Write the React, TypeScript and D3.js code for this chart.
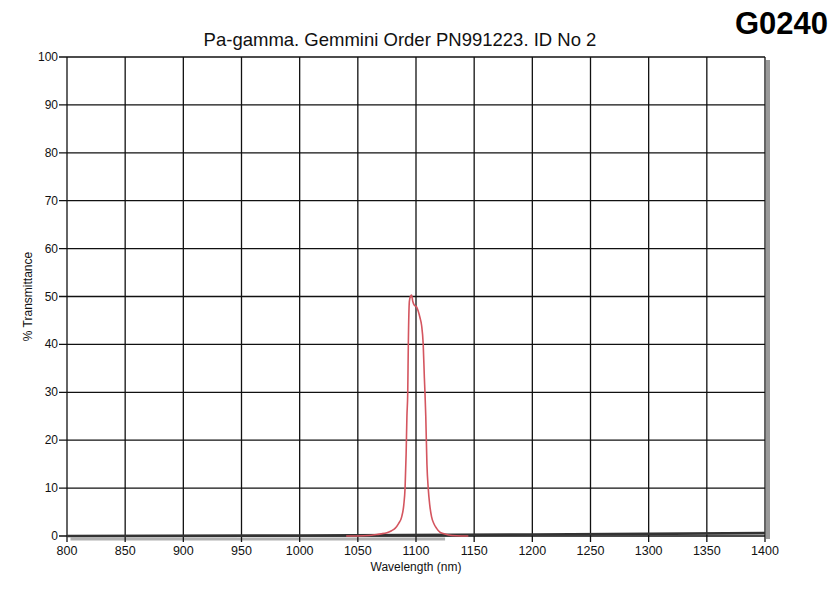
import React from "react";
import * as d3 from "d3";

const wavelengths = [1040, 1055, 1062, 1066, 1070, 1075, 1079, 1082, 1085, 1087.7, 1089.5, 1090.6, 1091.5, 1092.2, 1092.9, 1093.4, 1094.3, 1095.2, 1096.2, 1097.2, 1098.5, 1100.5, 1101.8, 1103.5, 1104.8, 1106.2, 1107.2, 1107.7, 1108.4, 1109.4, 1110.5, 1111.8, 1113.4, 1115.5, 1117.7, 1120.5, 1123.4, 1128, 1135, 1145];
const transmittance = [0, 0.05, 0.15, 0.3, 0.45, 0.7, 1.1, 1.6, 2.6, 4, 6.5, 10, 17, 25, 30, 40, 49, 50, 50.3, 49, 48.2, 47.8, 47, 45.5, 44, 40, 33, 30, 25, 15, 10, 6.5, 4, 2.5, 1.6, 0.8, 0.5, 0.2, 0.05, 0];

const baselineX = [800, 1000, 1200, 1400];
const baselineY = [0, 0.1, 0.3, 0.6];

const xTicks = [800, 850, 900, 950, 1000, 1050, 1100, 1150, 1200, 1250, 1300, 1350, 1400];
const yTicks = [0, 10, 20, 30, 40, 50, 60, 70, 80, 90, 100];

const titleText = "Pa-gamma. Gemmini Order PN991223. ID No 2";
const codeText = "G0240";
const xLabel = "Wavelength (nm)";
const yLabel = "% Transmittance";

export default function App() {
  const W = 837, H = 590;
  const left = 67, right = 765, top = 57, bottom = 536;
  const x = d3.scaleLinear().domain([800, 1400]).range([left, right]);
  const y = d3.scaleLinear().domain([0, 100]).range([bottom, top]);

  const line = d3.line<number>()
    .x((_, i) => x(wavelengths[i]))
    .y((d) => y(d))
    .curve(d3.curveMonotoneX);
  const baseLine = d3.line<number>()
    .x((_, i) => x(baselineX[i]))
    .y((d) => y(d));

  const font = "'Liberation Sans', Arial, sans-serif";

  return (
    <svg width={W} height={H} style={{ position: "absolute", left: 0, top: 0, background: "#fff" }} fontFamily={font}>
      <rect x={0} y={0} width={W} height={H} fill="#fff" />
      {/* scan shadows */}
      <rect x={right + 1} y={top + 3} width={4} height={bottom - top} fill="#9a9a9a" />
      <line x1={x(803)} x2={x(1125)} y1={bottom + 3} y2={bottom + 3} stroke="#b0b0b0" strokeWidth={3} />
      {/* grid */}
      {xTicks.map((t) => (
        <line key={"gx" + t} x1={x(t)} x2={x(t)} y1={top} y2={bottom + 6} stroke="#111" strokeWidth={1.3} />
      ))}
      {yTicks.map((t) => (
        <line key={"gy" + t} x1={left - 8} x2={right} y1={y(t)} y2={y(t)} stroke="#111" strokeWidth={1.3} />
      ))}
      {/* baseline trace */}
      <path d={baseLine(baselineY) || ""} fill="none" stroke="#333" strokeWidth={2.6} />
      {/* filter curve */}
      <path d={line(transmittance) || ""} fill="none" stroke="#d4555f" strokeWidth={1.6} />
      {/* tick labels */}
      {xTicks.map((t) => (
        <text key={"tx" + t} x={x(t)} y={bottom + 19} fontSize={12.5} textAnchor="middle" fill="#111">{t}</text>
      ))}
      {yTicks.map((t) => (
        <text key={"ty" + t} x={left - 9} y={y(t) + 4} fontSize={12} textAnchor="end" fill="#111">{t}</text>
      ))}
      <text x={x(1100)} y={571} fontSize={12} textAnchor="middle" fill="#111">{xLabel}</text>
      <text transform={`translate(32, ${(top + bottom) / 2}) rotate(-90)`} fontSize={12} textAnchor="middle" fill="#111">{yLabel}</text>
      <text x={400} y={46} fontSize={18.5} textAnchor="middle" fill="#111">{titleText}</text>
      <text x={828} y={33.5} fontSize={31} fontWeight="bold" textAnchor="end" fill="#000">{codeText}</text>
    </svg>
  );
}
